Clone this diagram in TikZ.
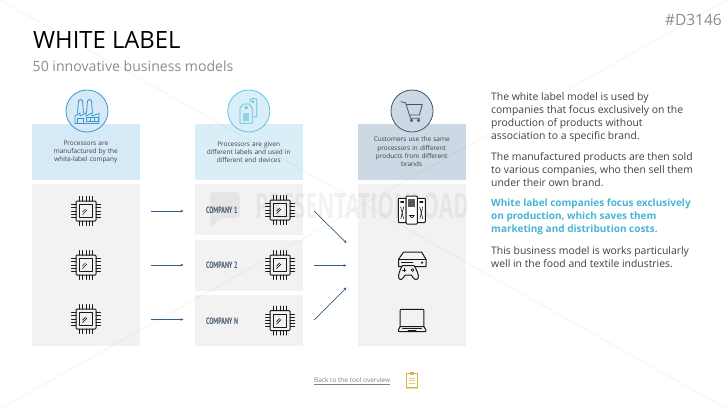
\documentclass[tikz,border=0pt]{standalone}
\usepackage{fontspec}
\setmainfont{Open Sans}
\newfontfamily\companyfont{PT Sans}
\usetikzlibrary{arrows.meta}
\definecolor{bluefill}{HTML}{D5E9F7}
\definecolor{blueline}{HTML}{3F97D0}
\definecolor{cyanfill}{HTML}{D9EEF6}
\definecolor{cyanline}{HTML}{5FC3DC}
\definecolor{slatefill}{HTML}{CDD8E5}
\definecolor{slateline}{HTML}{44566B}
\definecolor{panelgray}{HTML}{F2F2F2}
\definecolor{bodytext}{HTML}{404040}
\definecolor{hilite}{HTML}{45B5D3}
\definecolor{arrowblue}{HTML}{2F5F8A}
\definecolor{notegold}{HTML}{D9B44A}
\tikzset{
  panel/.style={fill=panelgray,minimum width=107.7pt,inner sep=0pt},
  header/.style={minimum width=107.7pt,minimum height=56pt,inner sep=0pt,text width=100pt,
    align=center,text=bodytext,font=\fontsize{6.45}{8.3}\selectfont},
  badge/.style={circle,draw=#1,line width=0.8pt,minimum size=42pt,inner sep=0pt},
  flow/.style={arrowblue,line width=0.7pt,-{Stealth[length=3pt,width=2.6pt]}},
  para/.style={anchor=north west,inner sep=0pt,align=left,text=bodytext,
    font=\fontsize{10.4}{13}\selectfont},
  company/.style={anchor=west,inner sep=0pt,text=slateline},
  device/.style={black!90,line width=1pt,line join=round,line cap=round},
  chip/.pic={
    \draw[device,rounded corners=1pt] (-10,-10) rectangle (10,10);
    \draw[device] (-6.5,-6.5) rectangle (6.5,6.5);
    \draw[device,line width=0.7pt] (-3.5,1) -- (-0.5,-2) (-3.5,3.5) -- (1,-1);
    \foreach \k in {-6.4,-3.2,0,3.2,6.4}{
      \draw[device] (\k,-10) -- (\k,-14.5) (\k,10) -- (\k,14.5);
      \draw[device] (-10,\k) -- (-14.5,\k) (10,\k) -- (14.5,\k);
    }
  }
}
\newcommand{\companylabel}[1]{\scalebox{0.66}[1]{\companyfont\bfseries\fontsize{9.2}{10}\selectfont #1}}
\begin{document}
\begin{tikzpicture}[x=1pt,y=-1pt]
\useasboundingbox (0,0) rectangle (727,409);
\coordinate (pageA) at (0,0);
\coordinate (pageB) at (727,409);
\coordinate (pageC) at (0,409);
\coordinate (pageD) at (727,0);

\node[anchor=base west,inner sep=0pt,font=\fontsize{23.8}{26}\selectfont] (title) at (33,48.5) {WHITE LABEL};
\node[anchor=base west,inner sep=0pt,text=black!45,font=\fontsize{14.1}{16}\selectfont] (subtitle) at (32.5,71.5) {50 innovative business models};
\node[anchor=base east,inner sep=0pt,text=black!45,font=\fontsize{15.5}{18}\selectfont] (code) at (722,25.5) {\#D3146};

\node[header,fill=bluefill] (headA) at (85.85,152) {Processors are\\manufactured by the\\white-label company};
\node[header,fill=cyanfill] (headB) at (248.7,152) {Processors are given\\different labels and used in\\different end devices};
\node[header,fill=slatefill] (headC) at (411.7,152) {Customers use the same\\processors in different\\products from different\\brands};

\node[badge=blueline,fill=bluefill] (badgeA) at (87,111) {};
\node[badge=cyanline,fill=cyanfill] (badgeB) at (248.8,111) {};
\node[badge=slateline,fill=slatefill] (badgeC) at (412,111) {};

\node[panel,minimum height=162pt] (panelA) at (85.85,265) {};
\node[panel,minimum height=51pt] (panelB) at (248.7,209.5) {};
\node[panel,minimum height=51pt] (panelD) at (248.7,265.3) {};
\node[panel,minimum height=51pt] (panelE) at (248.7,320.5) {};
\node[panel,minimum height=162pt] (panelC) at (411.7,265) {};

% faint sheet marks
\draw[black,opacity=0.05,line width=0.7pt] (pageA) -- (pageB) (pageC) -- (pageD);
\node[anchor=west,inner sep=0pt,opacity=0.05,font=\bfseries\fontsize{35}{36}\selectfont] (mark) at (255,206) {\scalebox{0.6}[1]{PRESENTATIONLOAD}};
\fill[black,opacity=0.05,rounded corners=4pt] (210,192) -- (240,192) -- (240,218) -- (220,218) -- (211,229) -- (210,218) -- cycle;

\node[company] (nameA) at (206,210) {\companylabel{COMPANY 1}};
\node[company] (nameB) at (206,265.5) {\companylabel{COMPANY 2}};
\node[company] (nameC) at (206,321) {\companylabel{COMPANY N}};

\foreach \y in {211,265,319}{
  \pic at (86,\y) {chip};
}
\foreach \y in {210,265,320.5}{
  \pic at (280,\y) {chip};
}

\coordinate (fromA) at (151,211);
\coordinate (toA) at (183.5,211);
\coordinate (fromB) at (151,265);
\coordinate (toB) at (183.5,265);
\coordinate (fromC) at (151,319.5);
\coordinate (toC) at (183.5,319.5);
\coordinate (fromD) at (314,211);
\coordinate (toD) at (346.5,243);
\coordinate (fromE) at (314,265.5);
\coordinate (toE) at (346.5,265.5);
\coordinate (fromF) at (314,320);
\coordinate (toF) at (346.5,287.5);
\draw[flow] (fromA) -- (toA);
\draw[flow] (fromB) -- (toB);
\draw[flow] (fromC) -- (toC);
\draw[flow] (fromD) -- (toD);
\draw[flow] (fromE) -- (toE);
\draw[flow] (fromF) -- (toF);

% factory
\begin{scope}[blueline,line width=0.8pt,line join=round]
\draw (77.5,113) -- (78.5,101) .. controls (79.5,98.5) and (81.5,98.5) .. (82.5,101) -- (83.5,113);
\draw (86.5,113) -- (87.5,101) .. controls (88.5,98.5) and (90.5,98.5) .. (91.5,101) -- (92.5,113);
\draw (75,123.5) -- (75,116) -- (80,113) -- (80,116) -- (86,113) -- (86,116) -- (92,113) -- (92,116) -- (99,113.5) -- (99,123.5) -- cycle;
\draw (77.5,123.5) -- (77.5,118.5) -- (83.5,118.5) -- (83.5,123.5);
\draw (86,117.5) rectangle (98,121);
\draw (90,117.5) -- (90,121) (94,117.5) -- (94,121);
\end{scope}

% tags
\begin{scope}[cyanline,line width=0.8pt,line join=round]
\draw (250,103) -- (250,100) -- (252.5,98.5) -- (256.7,99) -- (256.7,116.7) -- (252.5,116.7);
\draw (240,123.3) -- (240,108) -- (243.5,104) -- (249,104) -- (252.3,108) -- (252.3,123.3) -- cycle;
\draw (246.2,107.8) circle (1.3);
\draw (253,101.8) circle (1.1);
\fill[cyanline,opacity=0.6] (243.3,113.3) rectangle (249.3,120.7);
\end{scope}

% cart
\begin{scope}[slateline,line width=0.8pt,line join=round,line cap=round]
\draw (401,101.7) -- (405.5,102.7) -- (410.5,118.3) -- (420,118.3);
\draw (406.5,104.5) -- (422.3,104.5) -- (419.3,115) -- (409.8,115);
\draw (411.5,120.4) circle (1.1) (418.5,120.4) circle (1.1);
\end{scope}

% servers
\begin{scope}[device]
\draw[fill=white,rounded corners=0.8pt] (398.3,198.3) rectangle (406.2,222.5);
\draw[fill=white,rounded corners=0.8pt] (417.3,198.3) rectangle (425.3,222.5);
\draw[fill=white,rounded corners=0.8pt] (406.2,196) rectangle (417.3,224);
\fill[black!65] (408.3,199) rectangle (415.2,207);
\draw[line width=0.7pt] (409.3,215.5) -- (414.3,215.5) -- (411.8,218) -- cycle;
\foreach \x in {402.2,421.3}{
  \draw[line width=1.2pt] (\x-1.4,202) -- (\x+1.4,202);
  \draw[line width=0.7pt,dash pattern=on 1pt off 0.8pt] (\x-1.5,207) -- (\x+1.5,219) (\x+1.5,207) -- (\x-1.5,219);
}
\end{scope}

% console
\begin{scope}[device,shift={(0,9.5)}]
\draw (398.5,249.8) -- (403.5,242.7) -- (421.7,242.7) -- (426,249.8) -- (426,257) -- (398.5,257) -- cycle;
\draw (398.5,249.8) -- (426,249.8);
\draw[line width=0.7pt] (401.5,253) -- (413,253);
\fill (422,253.2) circle (1.2);
\draw[fill=panelgray] (402.5,256) -- (414,256) .. controls (416.5,260) and (419.5,266) .. (418,269) .. controls (416,271.5) and (413,269) .. (411.5,265.5) -- (405,265.5) .. controls (403.5,269) and (400.5,271.5) .. (399,269) .. controls (397.5,266) and (400,260) .. (402.5,256) -- cycle;
\draw[line width=0.7pt] (402.5,260.5) -- (406,260.5) (404.2,258.8) -- (404.2,262.2);
\draw[line width=0.7pt] (412.5,260.5) circle (1.3);
\end{scope}

% laptop
\begin{scope}[device]
\draw[rounded corners=0.8pt] (400.2,326.5) -- (400.2,309.3) -- (423.8,309.3) -- (423.8,326.5);
\draw (400.2,326.5) -- (423.8,326.5) -- (426,330) -- (425.5,331.7) -- (398.8,331.7) -- (398.3,330) -- cycle;
\draw[line width=0.8pt,dash pattern=on 1.1pt off 0.7pt] (402.5,328.5) -- (421.5,328.5);
\draw[line width=0.8pt] (408,330.5) -- (416,330.5);
\end{scope}

\node[para] (textA) at (491,92) {The white label model is used by\\companies that focus exclusively on the\\production of products without\\association to a specific brand.};
\node[para] (textB) at (491,152) {The manufactured products are then sold\\to various companies, who then sell them\\under their own brand.};
\node[para,text=hilite,font=\fontsize{10}{13}\selectfont] (textC) at (491,199) {\bfseries White label companies focus exclusively\\\bfseries on production, which saves them\\\bfseries marketing and distribution costs.};
\node[para] (textD) at (491,246) {This business model is works particularly\\well in the food and textile industries.};

\node[anchor=base west,inner sep=0pt,text=black!50,font=\fontsize{6.5}{8}\selectfont] (back) at (314,382.5) {\underline{Back to the tool overview}};
\begin{scope}[notegold,line width=0.8pt]
\draw (406.5,373.5) rectangle (417,387);
\fill[notegold,opacity=0.5] (406,387) rectangle (417.5,388.5);
\fill (409.5,372) rectangle (414,374.5);
\draw[line width=0.7pt,opacity=0.7] (408.5,378) -- (415,378) (408.5,380.5) -- (415,380.5) (408.5,383) -- (415,383);
\end{scope}
\end{tikzpicture}
\end{document}
